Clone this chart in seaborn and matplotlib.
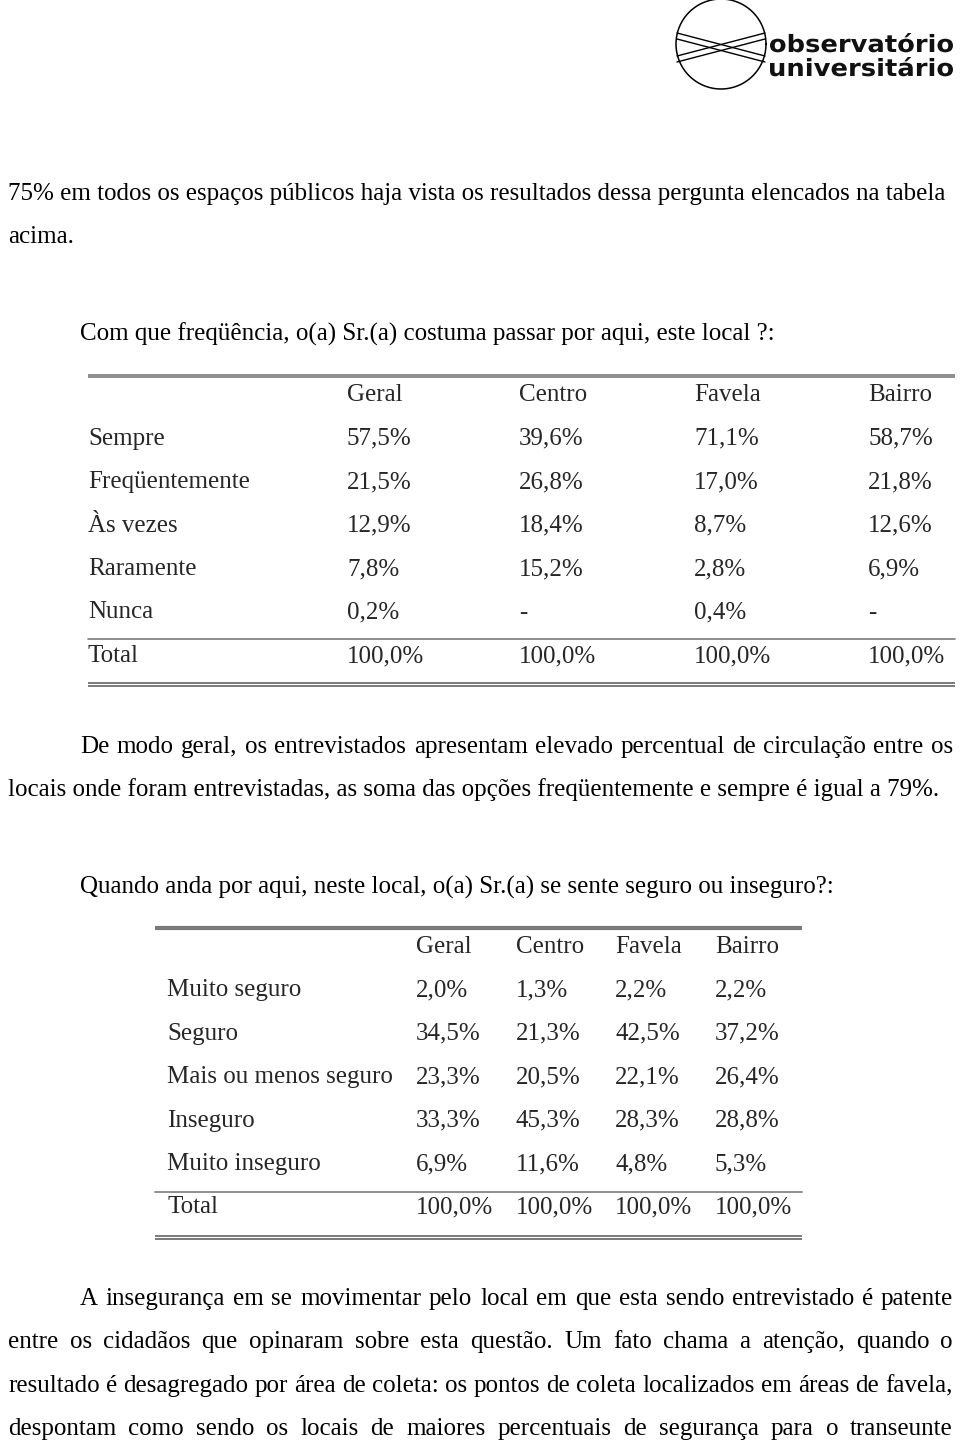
import numpy as np
import matplotlib
matplotlib.use("Agg")
import matplotlib.pyplot as plt
import seaborn as sns
from matplotlib.textpath import TextPath
from matplotlib.patches import PathPatch
from matplotlib.font_manager import FontProperties
from matplotlib.transforms import Affine2D

# Tema
sns.set_theme(style="white")
plt.rcParams['font.family'] = ['Liberation Serif', 'DejaVu Serif']

# Dados da tabela 1: frequencia de passagem
cols1 = ["Geral", "Centro", "Favela", "Bairro"]
rows1 = ["Sempre", "Freqüentemente", "Às vezes", "Raramente", "Nunca", "Total"]
geral1 = [57.5, 21.5, 12.9, 7.8, 0.2, 100.0]
centro1 = [39.6, 26.8, 18.4, 15.2, None, 100.0]
favela1 = [71.1, 17.0, 8.7, 2.8, 0.4, 100.0]
bairro1 = [58.7, 21.8, 12.6, 6.9, None, 100.0]

# Dados da tabela 2: sensacao de seguranca
cols2 = ["Geral", "Centro", "Favela", "Bairro"]
rows2 = ["Muito seguro", "Seguro", "Mais ou menos seguro", "Inseguro", "Muito inseguro", "Total"]
geral2 = [2.0, 34.5, 23.3, 33.3, 6.9, 100.0]
centro2 = [1.3, 21.3, 20.5, 45.3, 11.6, 100.0]
favela2 = [2.2, 42.5, 22.1, 28.3, 4.8, 100.0]
bairro2 = [2.2, 37.2, 26.4, 28.8, 5.3, 100.0]

texto_topo = ["75% em todos os espaços públicos haja vista os resultados dessa pergunta elencados na tabela",
              "acima."]
pergunta1 = "Com que freqüência, o(a) Sr.(a) costuma passar por aqui, este local ?:"
texto_meio = ["De modo geral, os entrevistados apresentam elevado percentual de circulação entre os",
              "locais onde foram entrevistadas, as soma das opções freqüentemente e sempre é igual a 79%."]
pergunta2 = "Quando anda por aqui, neste local, o(a) Sr.(a) se sente seguro ou inseguro?:"
texto_fim = ["A insegurança em se movimentar pelo local em que esta sendo entrevistado é patente",
             "entre os cidadãos que opinaram sobre esta questão. Um fato chama a atenção, quando o",
             "resultado é desagregado por área de coleta: os pontos de coleta localizados em áreas de favela,",
             "despontam como sendo os locais de maiores percentuais de segurança para o transeunte"]

FS = 18
BASE = 8  # deslocamento do centro visual ate a linha de base
COR_LINHA = "#7a7a7a"


def fmt(v):
    if v is None:
        return "-"
    return f"{v:.1f}".replace(".", ",") + "%"


def linha(ax, x0, x1, y, txt, just=False):
    # escreve uma linha de texto, opcionalmente justificada
    if not just:
        ax.text(x0, y + BASE, txt, fontsize=FS, ha="left", va="baseline", color="black")
        return
    rend = ax.figure.canvas.get_renderer()
    palavras = txt.split()
    objs = [ax.text(0, y + BASE, p, fontsize=FS, ha="left", va="baseline", color="black") for p in palavras]
    larg = [o.get_window_extent(rend).width for o in objs]
    gap = (x1 - x0 - sum(larg)) / (len(palavras) - 1)
    x = x0
    for o, w in zip(objs, larg):
        o.set_x(x)
        x += w + gap


def dupla(ax, x0, x1, y, sep=2.5, lw=1.2):
    ax.plot([x0, x1], [y - sep / 2, y - sep / 2], color=COR_LINHA, lw=lw, solid_capstyle="butt")
    ax.plot([x0, x1], [y + sep / 2, y + sep / 2], color=COR_LINHA, lw=lw, solid_capstyle="butt")


def tabela(ax, rows, cols, dados, xl, xcols, y_head, dy, x0, x1, y_top, y_total_line, y_bottom, top_double=True):
    if top_double:
        dupla(ax, x0, x1, y_top)
    else:
        ax.plot([x0, x1], [y_top, y_top], color=COR_LINHA, lw=3, solid_capstyle="butt")
    for c, xc in zip(cols, xcols):
        ax.text(xc, y_head + BASE, c, fontsize=FS, ha="left", va="baseline")
    for i, r in enumerate(rows):
        y = y_head + dy * (i + 1) + BASE
        ax.text(xl, y, r, fontsize=FS, ha="left", va="baseline")
        for serie, xc in zip(dados, xcols):
            ax.text(xc, y, fmt(serie[i]), fontsize=FS, ha="left", va="baseline")
    ax.plot([x0, x1], [y_total_line, y_total_line], color=COR_LINHA, lw=1.2)
    dupla(ax, x0, x1, y_bottom, sep=3, lw=1.4)


def texto_logo(ax, s, x, y_base, largura, altura_x):
    # texto do logo em caixa estreita (escala horizontal propria)
    fp = FontProperties(family="DejaVu Sans", weight="bold")
    tp = TextPath((0, 0), s, prop=fp, size=10)
    bb = tp.get_extents()
    xh = TextPath((0, 0), "x", prop=fp, size=10).get_extents().height
    sx = largura / bb.width
    sy = altura_x / xh
    tr = Affine2D().translate(-bb.x0, 0).scale(sx, -sy).translate(x, y_base)
    ax.add_patch(PathPatch(tr.transform_path(tp), color="#111111", lw=0))


fig = plt.figure(figsize=(9.6, 14.42), dpi=100)
ax = fig.add_axes([0, 0, 1, 1])
ax.set_xlim(0, 960)
ax.set_ylim(1442, 0)
ax.axis("off")

# Logo
t = np.linspace(0, 2 * np.pi, 200)
cx, cy, r = 721, 44, 45
ax.plot(cx + r * np.cos(t), cy + r * np.sin(t), color="black", lw=1.1)
for a, b in [((677, 33), (765, 56)), ((677, 39), (765, 62)), ((677, 56), (765, 33)), ((677, 62), (765, 39))]:
    ax.plot([a[0], b[0]], [a[1], b[1]], color="black", lw=1.0)
texto_logo(ax, "observatório", 770, 52, 183, 13)
texto_logo(ax, "universitário", 770, 76, 183, 13)

# Texto
linha(ax, 8, 955, 192, texto_topo[0])
linha(ax, 8, 955, 235, texto_topo[1])
linha(ax, 80, 955, 333, pergunta1)

tabela(ax, rows1, cols1, [geral1, centro1, favela1, bairro1], 88, [347, 519, 694, 868],
       393, 43.5, 88, 955, 376, 639, 684)

linha(ax, 80, 953, 745, texto_meio[0], just=True)
linha(ax, 8, 955, 788, texto_meio[1])
linha(ax, 80, 955, 886, pergunta2)

tabela(ax, rows2, cols2, [geral2, centro2, favela2, bairro2], 167, [416, 516, 615, 715],
       945, 43.4, 155, 802, 928, 1192, 1237, top_double=False)

linha(ax, 80, 953, 1297, texto_fim[0], just=True)
linha(ax, 8, 953, 1340, texto_fim[1], just=True)
linha(ax, 8, 953, 1384, texto_fim[2], just=True)
linha(ax, 8, 953, 1427, texto_fim[3], just=True)

fig.savefig("out.png", dpi=100, facecolor="white")
